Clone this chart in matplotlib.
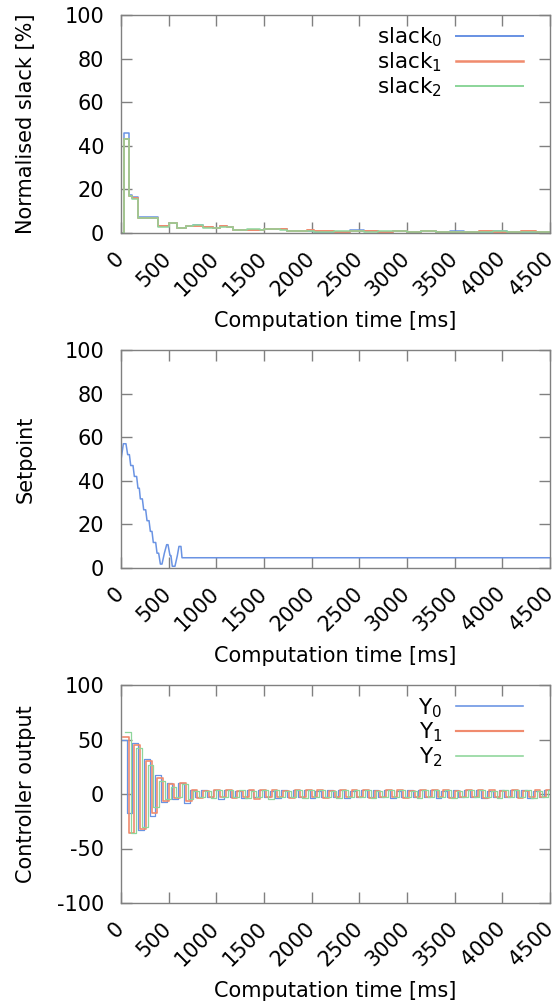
import numpy as np
import matplotlib.pyplot as plt


# normalised slack [%] (step data on a shared time grid, ms)
slack_t = [0, 30, 85, 112, 182, 392, 505, 590, 680, 760, 860, 970, 1040, 1110, 1180, 1320,
           1460, 1500, 1670, 1740, 1950, 2020, 2230, 2400, 2550, 2700, 2850, 3000, 3150,
           3300, 3450, 3600, 3750, 3900, 4050, 4200, 4350, 4500]
slack0 = [0, 46, 17.5, 16.5, 7.2, 3.0, 4.8, 2.4, 3.2, 3.6, 2.6, 2.3, 3.0, 2.8, 1.4, 1.6,
          1.3, 1.8, 1.7, 1.0, 1.1, 0.6, 0.5, 1.2, 0.7, 0.5, 0.9, 0.4, 0.8,
          0.5, 0.7, 0.4, 0.6, 0.8, 0.5, 0.6, 0.4, 0.4]
slack1 = [0, 43, 17.0, 16.0, 7.0, 3.0, 4.7, 2.5, 3.0, 3.4, 2.7, 2.2, 3.1, 2.6, 1.5, 1.5,
          1.4, 1.7, 1.8, 0.9, 1.2, 0.7, 0.6, 1.0, 0.8, 0.6, 0.7, 0.5, 0.9,
          0.4, 0.6, 0.5, 0.7, 0.6, 0.4, 0.7, 0.5, 0.5]
slack2 = [0, 43, 16.8, 15.8, 6.9, 2.9, 4.6, 2.3, 3.1, 3.5, 2.5, 2.4, 2.9, 2.7, 1.3, 1.7,
          1.2, 1.9, 1.6, 1.1, 1.0, 0.5, 0.7, 1.1, 0.6, 0.7, 0.8, 0.6, 0.7,
          0.6, 0.5, 0.6, 0.5, 0.7, 0.6, 0.5, 0.6, 0.6]

# setpoint
setpoint_t = [0, 25, 52, 70, 88, 102, 126, 140, 164, 178, 192, 203, 224, 238, 259, 273, 294,
              308, 325, 339, 364, 378, 395, 413, 430, 455, 479, 493, 514, 524, 538, 566,
              591, 608, 629, 640, 4500]
setpoint_v = [49.6, 57, 57, 52, 52, 47, 47, 42, 42, 36.6, 36.6, 31.7, 31.7, 26.7, 26.7, 21.7,
              21.7, 16.8, 16.8, 11.7, 11.7, 6.8, 6.8, 1.8, 1.8, 6.8, 10.7, 10.7, 5.7, 5.7,
              0.8, 0.8, 5.7, 9.9, 9.9, 4.7, 4.7]

# controller output, one sample every ctrl_dt ms, series shifted by ctrl_offsets
ctrl_dt = 60
ctrl_offsets = [0, 20, 40]
ctrl_y0 = [50, -17, 47, -33, 32, -20, 17, -7, 10, -5, 10, -8, 4,
           -3, 4, -3, 4, -5, 4, -3, 3, -4, 4,
           -3, 4, -3, 3, -4, 4, -3, 4, -3, 4,
           -4, 3, -3, 4, -3, 4, -4, 3, -3, 4,
           -3, 4, -3, 4, -4, 3, -3, 4, -3, 4,
           -3, 4, -4, 3, -3, 4, -3, 4, -3, 4,
           -4, 3, -3, 4, -3, 4, -3, 4, -4, 3,
           -3, 4]
ctrl_y1 = [52, -36, 45, -32, 30, -17, 15, -6, 9, -4, 10, -6, 4,
           -4, 3, -3, 4, -3, 4, -4, 3, -3, 4,
           -5, 4, -3, 4, -3, 3, -4, 4, -3, 4,
           -3, 4, -4, 3, -3, 4, -3, 4, -3, 4,
           -4, 3, -3, 4, -3, 4, -4, 3, -3, 4,
           -3, 4, -3, 4, -4, 3, -3, 4, -3, 4,
           -4, 4, -3, 3, -3, 4, -4, 3, -3, 4,
           -3, 4]
ctrl_y2 = [57, -36, 42, -30, 27, -12, 12, -5, 6, -3, 9, -5, 3,
           -3, 3, -4, 4, -3, 4, -3, 4, -4, 3,
           -3, 4, -5, 4, -3, 3, -3, 4, -4, 4,
           -3, 4, -3, 3, -4, 4, -3, 4, -3, 4,
           -4, 3, -3, 4, -3, 4, -3, 3, -4, 4,
           -3, 4, -3, 4, -4, 3, -3, 4, -3, 4,
           -3, 3, -4, 4, -3, 4, -3, 4, -4, 3,
           -3, 4]

xticks = [0, 500, 1000, 1500, 2000, 2500, 3000, 3500, 4000, 4500]
t_end = 4500

blue = '#6a93e3'
red = '#f08b6e'
green = '#8ed69b'
frame = '#808080'

plt.rcParams['font.family'] = ['DejaVu Sans']
plt.rcParams['mathtext.fontset'] = 'dejavusans'
plt.rcParams['axes.unicode_minus'] = False

W, H = 556, 1006
fig = plt.figure(figsize=(W / 100, H / 100), dpi=100)

boxes = [(15, 233), (350, 568), (685, 903)]
axes = []
for top, bot in boxes:
    ax = fig.add_axes([121 / W, 1 - bot / H, 429 / W, (bot - top) / H])
    axes.append(ax)


def style(ax, yticks, ylabel):
    for s in ax.spines.values():
        s.set_color(frame)
        s.set_linewidth(1.0)
    ax.set_xlim(0, t_end)
    ax.set_xticks(xticks)
    ax.set_xticklabels([str(v) for v in xticks], rotation=45, ha='right', va='center',
                       rotation_mode='anchor')
    ax.set_yticks(yticks)
    ax.set_ylim(yticks[0], yticks[-1])
    ax.tick_params(direction='in', length=8, width=1, color=frame, top=True, right=True,
                   labelsize=15, labelcolor='black')
    ax.tick_params(axis='x', pad=16)
    ax.tick_params(axis='y', pad=12)
    ax.set_xlabel('Computation time [ms]', fontsize=15)
    ax.xaxis.set_label_coords(0.5, -0.36)
    ax.set_ylabel(ylabel, fontsize=15)
    ax.yaxis.set_label_coords(-0.198, 0.5)


def add_legend(ax):
    leg = ax.legend(loc='upper right', bbox_to_anchor=(0.937, 0.95), frameon=False,
                    markerfirst=False, fontsize=15.5, handlelength=3.1, handletextpad=0.65,
                    labelspacing=0.05, borderpad=0, borderaxespad=0)
    for ln in leg.get_lines():
        ln.set_linewidth(ln.get_linewidth() * 1.3)


# slack
ax = axes[0]
ax.step(slack_t, slack0, where='post', color=blue, lw=1.1, label='slack$_0$')
ax.step(slack_t, slack1, where='post', color=red, lw=1.4, label='slack$_1$')
ax.step(slack_t, slack2, where='post', color=green, lw=1.1, label='slack$_2$')
style(ax, [0, 20, 40, 60, 80, 100], 'Normalised slack [%]')
add_legend(ax)

# setpoint
ax = axes[1]
ax.plot(setpoint_t, setpoint_v, color=blue, lw=1.1)
style(ax, [0, 20, 40, 60, 80, 100], 'Setpoint')

# controller output
ax = axes[2]
series = [(ctrl_y0, blue, 0.9, 'Y$_0$'), (ctrl_y1, red, 1.2, 'Y$_1$'),
          (ctrl_y2, green, 0.9, 'Y$_2$')]
for (vals, col, lw, lab), off in zip(series, ctrl_offsets):
    t = off + ctrl_dt * np.arange(len(vals))
    ax.step(np.append(t, t_end), np.append(vals, vals[-1]), where='post', color=col, lw=lw,
            label=lab)
style(ax, [-100, -50, 0, 50, 100], 'Controller output')
add_legend(ax)

fig.savefig('out.png', dpi=100)
